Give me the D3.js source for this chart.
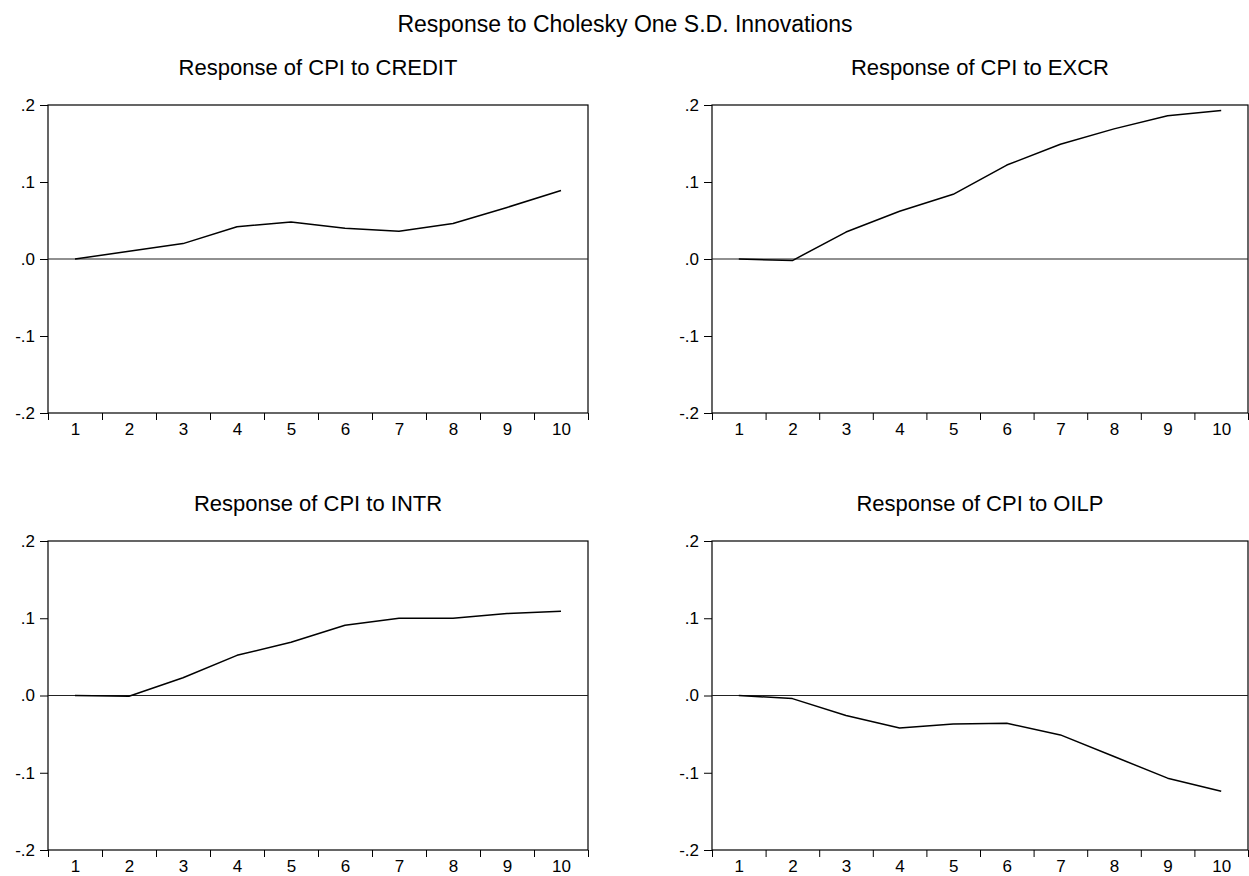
<!DOCTYPE html>
<html><head><meta charset="utf-8">
<script src="https://cdn.jsdelivr.net/npm/d3@7"></script>
<style>
body{margin:0;background:#fff;}
svg{display:block;font-family:"Liberation Sans",Arial,sans-serif;}
</style></head>
<body>
<svg id="chart" width="1249" height="876"></svg>
<script>
const periods = [1,2,3,4,5,6,7,8,9,10];
const yTicks = [-0.2,-0.1,0,0.1,0.2];
const mainTitle = "Response to Cholesky One S.D. Innovations";
const panelTitles = ["Response of CPI to CREDIT","Response of CPI to EXCR","Response of CPI to INTR","Response of CPI to OILP"];
const credit = [0.000,0.010,0.020,0.042,0.048,0.040,0.036,0.046,0.067,0.089];
const excr   = [0.000,-0.002,0.035,0.062,0.084,0.122,0.149,0.169,0.186,0.193];
const intr   = [0.000,-0.001,0.023,0.052,0.069,0.091,0.100,0.100,0.106,0.109];
const oilp   = [0.000,-0.004,-0.026,-0.042,-0.037,-0.036,-0.051,-0.079,-0.107,-0.124];
const series = [credit, excr, intr, oilp];

const svg = d3.select("#chart");
svg.append("text").attr("x",625).attr("y",32).attr("text-anchor","middle")
  .attr("font-size",23).attr("fill","#000").text(mainTitle);

const cols = [[48,588],[712,1248]];
const rows = [[105,413],[541,850]];
const fmt = v => v===0 ? ".0" : (v<0?"-":"") + "." + Math.round(Math.abs(v)*10);

series.forEach((vals,i)=>{
  const [xl,xr] = cols[i%2];
  const [yt,yb] = rows[Math.floor(i/2)];
  const g = svg.append("g");
  const x = d3.scaleLinear().domain([0.5,10.5]).range([xl,xr]);
  const y = d3.scaleLinear().domain([-0.2,0.2]).range([yb,yt]);

  g.append("text").attr("x",(xl+xr)/2).attr("y",yt-30).attr("text-anchor","middle")
    .attr("font-size",22).attr("fill","#000").text(panelTitles[i]);

  g.append("rect").attr("x",xl).attr("y",yt).attr("width",xr-xl).attr("height",yb-yt)
    .attr("fill","none").attr("stroke","#000").attr("stroke-width",1.2);

  g.append("line").attr("x1",xl).attr("x2",xr).attr("y1",y(0)).attr("y2",y(0))
    .attr("stroke","#222").attr("stroke-width",1.2);

  const ya = g.append("g").attr("transform",`translate(${xl},0)`)
    .call(d3.axisLeft(y).tickValues(yTicks).tickFormat(fmt).tickSize(8).tickPadding(5));
  ya.attr("font-size",17).attr("font-family","Liberation Sans, Arial, sans-serif");
  ya.select(".domain").remove();
  ya.selectAll("text").attr("fill","#000");
  ya.selectAll("line").attr("stroke","#000");

  const xb = g.append("g").attr("transform",`translate(0,${yb})`)
    .call(d3.axisBottom(x).tickValues(d3.range(0.5,11,1)).tickFormat("").tickSize(7));
  xb.select(".domain").remove();
  xb.selectAll("line").attr("stroke","#000");

  const xlab = g.append("g").attr("transform",`translate(0,${yb})`)
    .call(d3.axisBottom(x).tickValues(periods).tickFormat(d3.format("d")).tickSize(0).tickPadding(10));
  xlab.attr("font-size",17).attr("font-family","Liberation Sans, Arial, sans-serif");
  xlab.select(".domain").remove();
  xlab.selectAll("text").attr("fill","#000");

  const line = d3.line().x((d,j)=>x(periods[j])).y(d=>y(d));
  g.append("path").datum(vals).attr("d",line).attr("fill","none")
    .attr("stroke","#000").attr("stroke-width",1.5).attr("stroke-linejoin","round");
});
</script>
</body></html>
